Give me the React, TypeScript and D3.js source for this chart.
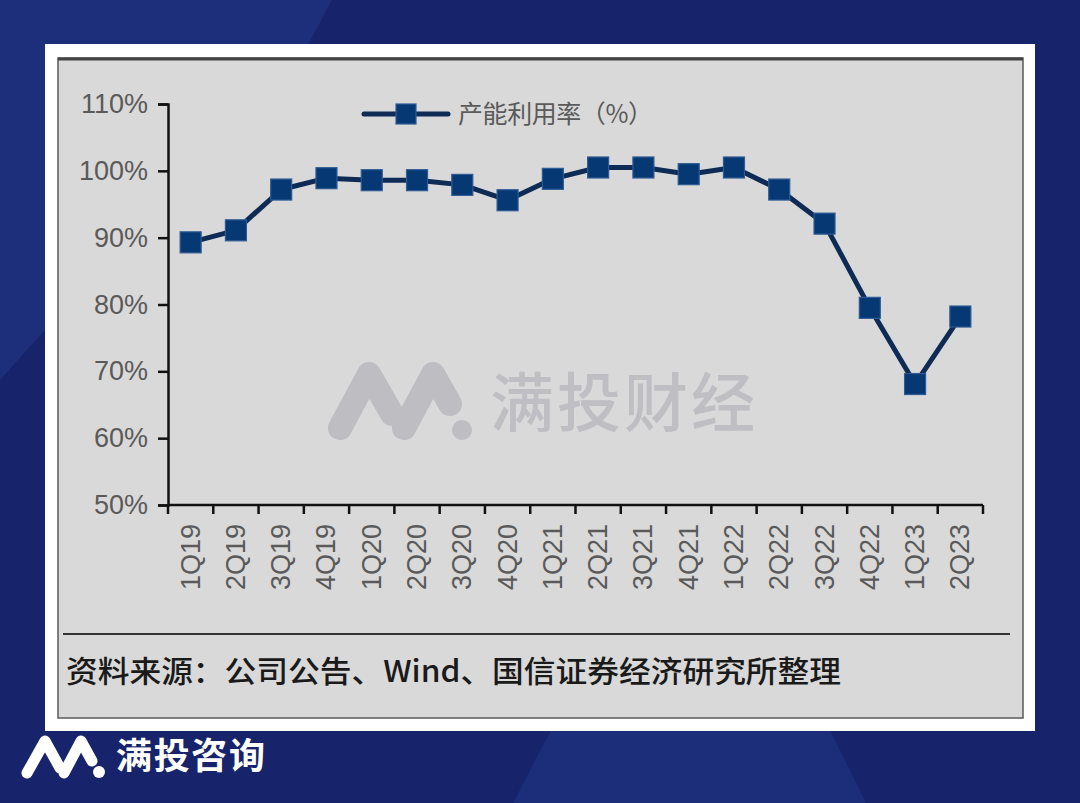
import { useEffect, useRef } from 'react';
import * as d3 from 'd3';

// quarters on the x axis
const quarters = [
  '1Q19', '2Q19', '3Q19', '4Q19',
  '1Q20', '2Q20', '3Q20', '4Q20',
  '1Q21', '2Q21', '3Q21', '4Q21',
  '1Q22', '2Q22', '3Q22', '4Q22',
  '1Q23', '2Q23',
];

// 产能利用率 (%)
const utilization = [
  89.3, 91.1, 97.2, 98.9,
  98.6, 98.6, 97.9, 95.6,
  98.8, 100.5, 100.5, 99.5,
  100.5, 97.2, 92.1, 79.5,
  68.1, 78.2,
];

const yTicks = [50, 60, 70, 80, 90, 100, 110];

const seriesName = '产能利用率（%）';
const sourceNote = '资料来源：公司公告、Wind、国信证券经济研究所整理';
const watermark = '满投财经';
const brand = '满投咨询';

const W = 1080;
const H = 803;

export default function App() {
  const svgRef = useRef<SVGSVGElement>(null);

  useEffect(() => {
    if (!svgRef.current) return;
    const svg = d3.select(svgRef.current);
    svg.selectAll('*').remove();

    // background
    svg.append('rect').attr('width', W).attr('height', H).attr('fill', '#17236a');
    svg.append('polygon')
      .attr('points', '0,0 332,0 300,60 45,330 0,380')
      .attr('fill', '#1d2e7b');
    svg.append('polygon')
      .attr('points', '551,730 830,730 866,803 513,803')
      .attr('fill', '#1c2d7a');

    // white frame + gray panel
    svg.append('rect').attr('x', 45).attr('y', 44).attr('width', 990).attr('height', 687).attr('fill', '#ffffff');
    svg.append('rect')
      .attr('x', 58).attr('y', 58).attr('width', 965).attr('height', 660)
      .attr('fill', '#d9d9d9').attr('stroke', '#5a5a5a').attr('stroke-width', 1.5);
    svg.append('line')
      .attr('x1', 58).attr('x2', 1023).attr('y1', 59).attr('y2', 59)
      .attr('stroke', '#444').attr('stroke-width', 3);

    // watermark
    const wm = svg.append('g').attr('fill', 'none').attr('stroke', '#bdbdc2')
      .attr('stroke-width', 24).attr('stroke-linecap', 'round').attr('stroke-linejoin', 'round');
    wm.append('path').attr('d', 'M340,428 L369,374 L392,414 M404,428 L433,374 L450,404');
    svg.append('circle').attr('cx', 462).attr('cy', 430).attr('r', 10).attr('fill', '#bdbdc2');
    svg.append('text')
      .attr('x', 490).attr('y', 426)
      .attr('font-family', '"Noto Sans CJK SC", sans-serif')
      .attr('font-size', 64).attr('font-weight', 500)
      .attr('fill', '#bebec3')
      .attr('textLength', 265)
      .text(watermark);

    // scales
    const x = d3.scaleBand<string>().domain(quarters).range([168, 983]).padding(0);
    const y = d3.scaleLinear().domain([50, 110]).range([505, 104]);
    const bw = x.bandwidth();

    // y axis
    const yAxis = svg.append('g')
      .attr('transform', 'translate(168,0)')
      .call(d3.axisLeft(y).tickValues(yTicks).tickSize(10).tickPadding(10).tickFormat((d) => `${d}%`));
    yAxis.select('.domain').attr('stroke', '#111').attr('stroke-width', 2.5);
    yAxis.selectAll('.tick line').attr('stroke', '#111').attr('stroke-width', 2.5);
    yAxis.selectAll('.tick text')
      .attr('font-family', '"Liberation Sans", Arial, sans-serif')
      .attr('font-size', 27)
      .attr('fill', '#5a5a5a');

    // x axis
    const xg = svg.append('g');
    xg.append('line')
      .attr('x1', 168).attr('x2', 983).attr('y1', y(50)).attr('y2', y(50))
      .attr('stroke', '#111').attr('stroke-width', 2.5);
    const boundaries = [...quarters.map((q) => x(q) as number), 983];
    xg.selectAll('line.tick')
      .data(boundaries)
      .enter().append('line')
      .attr('class', 'tick')
      .attr('x1', (d) => d).attr('x2', (d) => d)
      .attr('y1', y(50)).attr('y2', y(50) + 9)
      .attr('stroke', '#111').attr('stroke-width', 2.5);
    xg.selectAll('text')
      .data(quarters)
      .enter().append('text')
      .attr('transform', (d) => `translate(${(x(d) as number) + bw / 2},524) rotate(-90)`)
      .attr('text-anchor', 'end')
      .attr('dominant-baseline', 'central')
      .attr('font-family', '"Liberation Sans", Arial, sans-serif')
      .attr('font-size', 27)
      .attr('fill', '#5a5a5a')
      .text((d) => d);

    // line
    const points = quarters.map((q, i) => ({ q, v: utilization[i] }));
    const line = d3.line<{ q: string; v: number }>()
      .x((d) => (x(d.q) as number) + bw / 2)
      .y((d) => y(d.v));
    svg.append('path')
      .datum(points)
      .attr('d', line)
      .attr('fill', 'none')
      .attr('stroke', '#0d2b55')
      .attr('stroke-width', 5)
      .attr('stroke-linejoin', 'round');

    const ms = 21;
    svg.selectAll('rect.marker')
      .data(points)
      .enter().append('rect')
      .attr('class', 'marker')
      .attr('x', (d) => (x(d.q) as number) + bw / 2 - ms / 2)
      .attr('y', (d) => y(d.v) - ms / 2)
      .attr('width', ms).attr('height', ms)
      .attr('fill', '#063874')
      .attr('stroke', '#2f5b94')
      .attr('stroke-width', 1.2);

    // legend
    const lg = svg.append('g');
    lg.append('line')
      .attr('x1', 364).attr('x2', 448).attr('y1', 114).attr('y2', 114)
      .attr('stroke', '#0d2b55').attr('stroke-width', 5).attr('stroke-linecap', 'round');
    lg.append('rect')
      .attr('x', 406 - 10).attr('y', 114 - 10).attr('width', 20).attr('height', 20)
      .attr('fill', '#063874').attr('stroke', '#2f5b94').attr('stroke-width', 1.2);
    lg.append('text')
      .attr('x', 458).attr('y', 123)
      .attr('font-family', '"Noto Sans CJK SC", sans-serif')
      .attr('font-size', 25)
      .attr('fill', '#5a5a5a')
      .attr('textLength', 195)
      .text(seriesName);

    // source separator + note
    svg.append('line')
      .attr('x1', 63).attr('x2', 1010).attr('y1', 634).attr('y2', 634)
      .attr('stroke', '#333').attr('stroke-width', 2);
    svg.append('text')
      .attr('x', 66).attr('y', 682)
      .attr('font-family', '"Noto Sans CJK SC", sans-serif')
      .attr('font-size', 30)
      .attr('font-weight', 500)
      .attr('fill', '#1a1a1a')
      .attr('textLength', 775)
      .attr('lengthAdjust', 'spacingAndGlyphs')
      .text(sourceNote);

    // brand at bottom left
    const bl = svg.append('g').attr('fill', 'none').attr('stroke', '#ffffff')
      .attr('stroke-width', 11).attr('stroke-linecap', 'round').attr('stroke-linejoin', 'round');
    bl.append('path').attr('d', 'M27,773 L45,741 L60,768 M64,773 L81,741 L92,761');
    svg.append('circle').attr('cx', 99).attr('cy', 772).attr('r', 6).attr('fill', '#ffffff');
    svg.append('text')
      .attr('x', 116).attr('y', 769)
      .attr('font-family', '"Noto Sans CJK SC", sans-serif')
      .attr('font-size', 36)
      .attr('font-weight', 700)
      .attr('fill', '#ffffff')
      .attr('textLength', 149)
      .text(brand);
  }, []);

  return (
    <svg
      ref={svgRef}
      width={W}
      height={H}
      style={{ position: 'absolute', left: 0, top: 0, display: 'block' }}
    />
  );
}
